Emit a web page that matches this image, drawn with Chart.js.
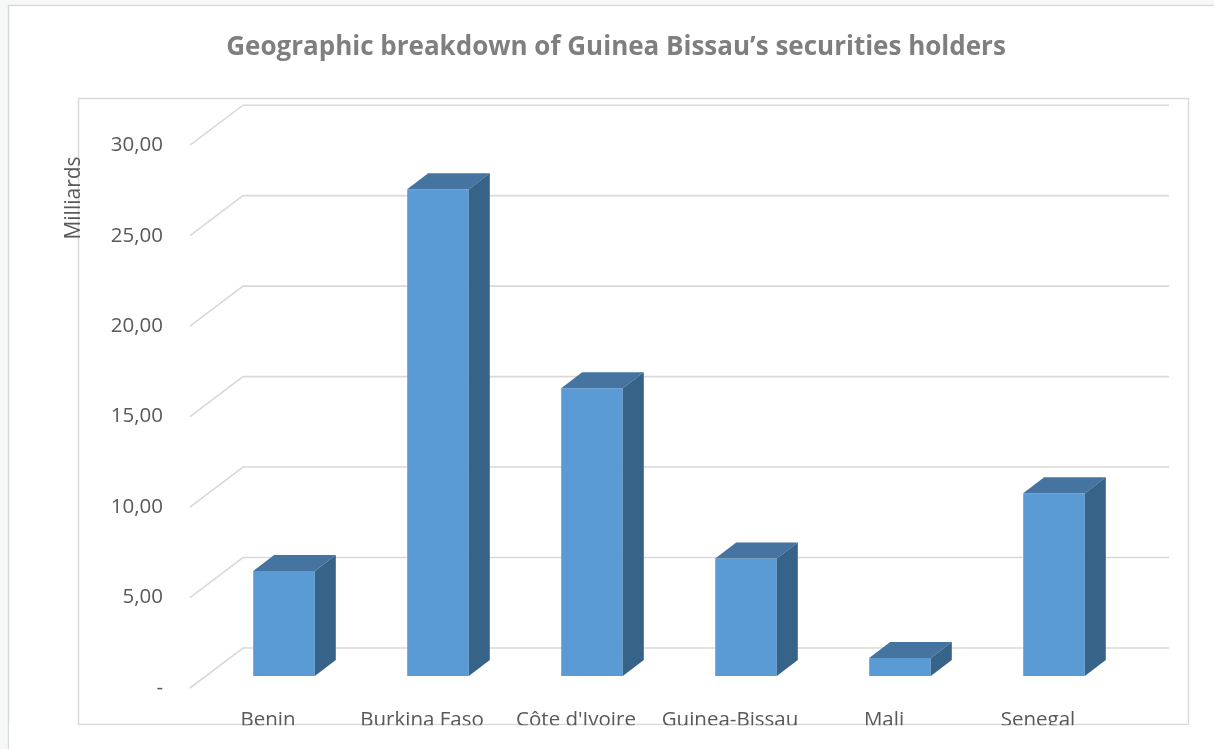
<!DOCTYPE html>
<html>
<head>
<meta charset="utf-8">
<script src="https://cdn.jsdelivr.net/npm/chart.js@4/dist/chart.umd.min.js"></script>
<style>
  html, body { margin: 0; padding: 0; background: #f6f8f7; }
  #c { display: block; }
</style>
</head>
<body>
<canvas id="c" width="1214" height="749"></canvas>
<script>
// data (milliards)
const countries = ["Benin", "Burkina Faso", "Côte d'Ivoire", "Guinea-Bissau", "Mali", "Senegal"];
const holdings = [5.8, 26.9, 15.9, 6.5, 1.0, 10.1];
const yTicks = [0, 5, 10, 15, 20, 25, 30];

const DX = 21, DY = -16; // depth of each bar

// page, frame and the 3D walls
const walls = {
    id: 'walls',
    beforeDraw(chart) {
        const ctx = chart.ctx;
        ctx.save();
        ctx.fillStyle = '#f6f8f7';
        ctx.fillRect(0, 0, chart.width, chart.height);
        ctx.fillStyle = '#ffffff';
        ctx.fillRect(8, 5, chart.width - 8, chart.height - 5);
        ctx.strokeStyle = '#d9d9d9';
        ctx.lineWidth = 1.5;
        ctx.beginPath();
        ctx.moveTo(8.5, chart.height);
        ctx.lineTo(8.5, 5.5);
        ctx.lineTo(chart.width, 5.5);
        ctx.stroke();
        ctx.strokeRect(78.5, 98.5, 1110, 626);
        ctx.restore();
    },
    beforeDatasetsDraw(chart) {
        const ctx = chart.ctx, y = chart.scales.y, a = chart.chartArea;
        ctx.save();
        ctx.strokeStyle = '#d9d9d9';
        ctx.lineWidth = 1.6;
        yTicks.forEach(v => {
            const py = y.getPixelForValue(v);
            ctx.beginPath();
            ctx.moveTo(a.left - 17, py + 12);
            ctx.lineTo(a.left + 36, py - 28);
            ctx.lineTo(a.right + 38, py - 28);
            ctx.stroke();
        });
        ctx.restore();
    },
    afterDatasetsDraw(chart) {
        const ctx = chart.ctx;
        ctx.save();
        chart.getDatasetMeta(0).data.forEach(bar => {
            const l = bar.x - bar.width / 2, r = bar.x + bar.width / 2;
            // top face
            ctx.fillStyle = '#44749f';
            ctx.beginPath();
            ctx.moveTo(l, bar.y);
            ctx.lineTo(l + DX, bar.y + DY);
            ctx.lineTo(r + DX, bar.y + DY);
            ctx.lineTo(r, bar.y);
            ctx.closePath();
            ctx.fill();
            // side face
            ctx.fillStyle = '#386388';
            ctx.beginPath();
            ctx.moveTo(r, bar.y);
            ctx.lineTo(r + DX, bar.y + DY);
            ctx.lineTo(r + DX, bar.base + DY);
            ctx.lineTo(r, bar.base);
            ctx.closePath();
            ctx.fill();
        });
        ctx.restore();
    },
    afterDraw(chart) {
        const ctx = chart.ctx;
        ctx.save();
        // category labels are cut by the frame
        ctx.fillStyle = '#ffffff';
        ctx.fillRect(9, 725.3, chart.width - 9, chart.height - 725.3);
        ctx.fillStyle = '#595959';
        ctx.font = '21px "Open Sans"';
        ctx.textAlign = 'center';
        ctx.textBaseline = 'middle';
        ctx.translate(74, 198);
        ctx.rotate(-Math.PI / 2);
        ctx.fillText('Milliards', 0, 0);
        ctx.restore();
    }
};

new Chart(document.getElementById('c'), {
    type: 'bar',
    data: {
        labels: countries,
        datasets: [{
            data: holdings,
            backgroundColor: '#5b9bd5',
            borderWidth: 0,
            categoryPercentage: 1,
            barPercentage: 0.4
        }]
    },
    options: {
        responsive: false,
        devicePixelRatio: 1,
        animation: false,
        layout: { padding: { top: 0, left: 101, right: 83, bottom: 0 } },
        plugins: {
            legend: { display: false },
            tooltip: { enabled: false },
            title: {
                display: true,
                text: 'Geographic breakdown of Guinea Bissau’s securities holders',
                color: '#7f7f7f',
                font: { family: '"Open Sans"', size: 26, weight: 'bold' },
                padding: { top: 32, bottom: 70 }
            }
        },
        scales: {
            x: {
                grid: { display: false, drawTicks: false },
                border: { display: false },
                ticks: {
                    color: '#595959',
                    font: { family: '"Open Sans"', size: 20.5 },
                    padding: 32,
                    labelOffset: -16,
                    maxRotation: 0
                },
                afterFit(scale) { scale.height = 73; }
            },
            y: {
                min: 0,
                max: 30,
                grid: { display: false, drawTicks: false },
                border: { display: false },
                ticks: {
                    stepSize: 5,
                    color: '#595959',
                    font: { family: '"Open Sans"', size: 20.5 },
                    padding: 44,
                    labelOffset: 12,
                    callback: v => v === 0 ? '-' : v.toFixed(2).replace('.', ',')
                },
                afterFit(scale) { scale.width = 106; }
            }
        }
    },
    plugins: [walls]
});
</script>
</body>
</html>
